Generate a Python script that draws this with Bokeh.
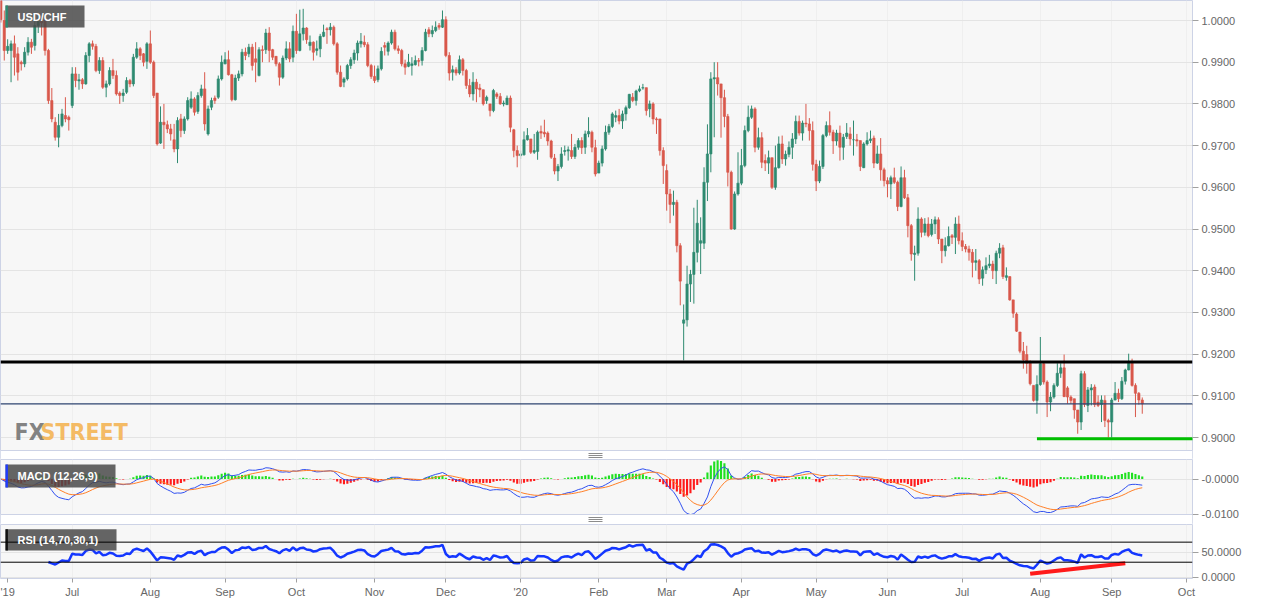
import numpy as np
from bokeh.plotting import figure
from bokeh.layouts import column
from bokeh.models import (ColumnDataSource, FixedTicker, Span, Label, Range1d, BoxAnnotation,
                          NumeralTickFormatter, CustomJSTickFormatter)
from bokeh.embed import file_html
from bokeh.resources import INLINE

# ---------------- data (daily USD/CHF, trading-day index 0 = 1 Jul 2019) ----------------
first_day_index = -21

opens = [
    1.0060,
    1.0000, 0.9928, 0.9928, 0.9944, 0.9920, 0.9900, 0.9896, 0.9924, 0.9948, 0.9940,
    0.9988, 0.9998, 1.0000, 0.9928, 0.9808, 0.9756, 0.9720, 0.9748, 0.9772, 0.9768,
    0.9796, 0.9872, 0.9855, 0.9858, 0.9848, 0.9916, 0.9944, 0.9938, 0.9880, 0.9904,
    0.9840, 0.9848, 0.9880, 0.9868, 0.9826, 0.9820, 0.9828, 0.9856, 0.9848, 0.9912,
    0.9932, 0.9920, 0.9902, 0.9944, 0.9900, 0.9826, 0.9706, 0.9756, 0.9750, 0.9740,
    0.9714, 0.9692, 0.9764, 0.9736, 0.9764, 0.9792, 0.9812, 0.9782, 0.9820, 0.9836,
    0.9728, 0.9792, 0.9814, 0.9816, 0.9860, 0.9896, 0.9906, 0.9870, 0.9810, 0.9862,
    0.9872, 0.9924, 0.9920, 0.9936, 0.9908, 0.9868, 0.9930, 0.9930, 0.9970, 0.9930,
    0.9914, 0.9896, 0.9864, 0.9910, 0.9932, 0.9912, 0.9974, 0.9928, 0.9968, 0.9982,
    0.9940, 0.9948, 0.9928, 0.9932, 0.9962, 0.9980, 0.9978, 0.9984, 0.9944, 0.9876,
    0.9852, 0.9860, 0.9892, 0.9906, 0.9922, 0.9944, 0.9948, 0.9942, 0.9892, 0.9866,
    0.9858, 0.9884, 0.9940, 0.9926, 0.9946, 0.9972, 0.9932, 0.9928, 0.9896, 0.9890,
    0.9892, 0.9894, 0.9904, 0.9904, 0.9928, 0.9978, 0.9968, 0.9976, 0.9988, 0.9984,
    1.0002, 0.9916, 0.9876, 0.9882, 0.9874, 0.9906, 0.9880, 0.9844, 0.9824, 0.9852,
    0.9838, 0.9834, 0.9808, 0.9800, 0.9784, 0.9824, 0.9818, 0.9800, 0.9798, 0.9814,
    0.9738, 0.9688, 0.9676, 0.9678, 0.9714, 0.9716, 0.9684, 0.9686, 0.9734, 0.9732,
    0.9730, 0.9711, 0.9670, 0.9639, 0.9650, 0.9686, 0.9687, 0.9688, 0.9674, 0.9696,
    0.9712, 0.9696, 0.9728, 0.9732, 0.9695, 0.9634, 0.9658, 0.9692, 0.9732, 0.9746,
    0.9768, 0.9772, 0.9759, 0.9776, 0.9791, 0.9816, 0.9808, 0.9831, 0.9838, 0.9839,
    0.9788, 0.9800, 0.9764, 0.9764, 0.9688, 0.9640, 0.9584, 0.9559, 0.9564, 0.9460,
    0.9274, 0.9282, 0.9368, 0.9391, 0.9444, 0.9466, 0.9466, 0.9612, 0.9680, 0.9860,
    0.9863, 0.9848, 0.9815, 0.9770, 0.9636, 0.9500, 0.9584, 0.9610, 0.9652, 0.9736,
    0.9768, 0.9788, 0.9696, 0.9719, 0.9664, 0.9658, 0.9671, 0.9600, 0.9647, 0.9704,
    0.9668, 0.9679, 0.9696, 0.9716, 0.9758, 0.9730, 0.9754, 0.9752, 0.9736, 0.9655,
    0.9615, 0.9650, 0.9724, 0.9748, 0.9732, 0.9711, 0.9730, 0.9696, 0.9722, 0.9728,
    0.9714, 0.9714, 0.9712, 0.9647, 0.9704, 0.9712, 0.9718, 0.9658, 0.9680, 0.9642,
    0.9616, 0.9608, 0.9623, 0.9612, 0.9554, 0.9623, 0.9575, 0.9508, 0.9439, 0.9442,
    0.9524, 0.9492, 0.9512, 0.9487, 0.9512, 0.9522, 0.9476, 0.9448, 0.9460, 0.9484,
    0.9480, 0.9512, 0.9472, 0.9458, 0.9452, 0.9444, 0.9420, 0.9424, 0.9382, 0.9402,
    0.9412, 0.9416, 0.9400, 0.9442, 0.9455, 0.9384, 0.9386, 0.9330, 0.9296, 0.9253,
    0.9207, 0.9199, 0.9178, 0.9125, 0.9089, 0.9127, 0.9177, 0.9133, 0.9085, 0.9097,
    0.9125, 0.9154, 0.9167, 0.9119, 0.9097, 0.9093, 0.9066, 0.9037, 0.9153, 0.9077,
    0.9114, 0.9121, 0.9085, 0.9079, 0.9089, 0.9041, 0.9037, 0.9090, 0.9106, 0.9093,
    0.9135, 0.9162, 0.9178, 0.9125, 0.9106, 0.9090,
]

highs = [
    1.0075,
    1.0024, 0.9955, 0.9952, 0.9964, 0.9936, 0.9904, 0.9936, 0.9960, 0.9956, 0.9998,
    1.0010, 1.0008, 1.0004, 0.9932, 0.9838, 0.9768, 0.9776, 0.9788, 0.9816, 0.9772,
    0.9888, 0.9888, 0.9872, 0.9862, 0.9924, 0.9948, 0.9952, 0.9944, 0.9912, 0.9912,
    0.9856, 0.9888, 0.9908, 0.9880, 0.9830, 0.9836, 0.9864, 0.9860, 0.9920, 0.9948,
    0.9936, 0.9922, 0.9948, 0.9976, 0.9904, 0.9826, 0.9794, 0.9800, 0.9760, 0.9752,
    0.9752, 0.9768, 0.9776, 0.9770, 0.9816, 0.9830, 0.9816, 0.9828, 0.9846, 0.9876,
    0.9796, 0.9815, 0.9820, 0.9868, 0.9916, 0.9924, 0.9928, 0.9872, 0.9870, 0.9880,
    0.9932, 0.9935, 0.9944, 0.9944, 0.9948, 0.9936, 0.9940, 0.9980, 0.9984, 0.9932,
    0.9915, 0.9900, 0.9916, 0.9950, 0.9948, 0.9988, 1.0016, 1.0026, 1.0028, 0.9984,
    0.9964, 0.9950, 0.9952, 0.9968, 0.9990, 0.9984, 0.9994, 0.9988, 0.9948, 0.9892,
    0.9864, 0.9896, 0.9912, 0.9930, 0.9952, 0.9970, 0.9964, 0.9948, 0.9896, 0.9892,
    0.9892, 0.9936, 0.9948, 0.9950, 0.9978, 0.9978, 0.9940, 0.9932, 0.9906, 0.9920,
    0.9912, 0.9916, 0.9910, 0.9936, 0.9980, 0.9984, 0.9988, 0.9998, 0.9994, 1.0024,
    1.0010, 0.9924, 0.9892, 0.9888, 0.9916, 0.9910, 0.9884, 0.9860, 0.9876, 0.9860,
    0.9848, 0.9834, 0.9820, 0.9800, 0.9836, 0.9828, 0.9826, 0.9808, 0.9820, 0.9820,
    0.9740, 0.9700, 0.9688, 0.9734, 0.9742, 0.9716, 0.9728, 0.9736, 0.9748, 0.9762,
    0.9734, 0.9714, 0.9680, 0.9656, 0.9696, 0.9700, 0.9698, 0.9728, 0.9704, 0.9718,
    0.9720, 0.9736, 0.9768, 0.9736, 0.9714, 0.9664, 0.9700, 0.9748, 0.9752, 0.9780,
    0.9784, 0.9788, 0.9784, 0.9796, 0.9824, 0.9826, 0.9834, 0.9844, 0.9848, 0.9839,
    0.9808, 0.9804, 0.9768, 0.9764, 0.9696, 0.9655, 0.9596, 0.9592, 0.9570, 0.9466,
    0.9319, 0.9412, 0.9402, 0.9551, 0.9570, 0.9528, 0.9648, 0.9751, 0.9876, 0.9900,
    0.9900, 0.9848, 0.9834, 0.9776, 0.9640, 0.9590, 0.9684, 0.9692, 0.9748, 0.9796,
    0.9796, 0.9792, 0.9743, 0.9732, 0.9679, 0.9688, 0.9671, 0.9700, 0.9722, 0.9724,
    0.9688, 0.9710, 0.9730, 0.9772, 0.9772, 0.9760, 0.9800, 0.9766, 0.9758, 0.9666,
    0.9664, 0.9728, 0.9758, 0.9782, 0.9738, 0.9738, 0.9748, 0.9728, 0.9754, 0.9744,
    0.9760, 0.9728, 0.9712, 0.9708, 0.9732, 0.9736, 0.9724, 0.9700, 0.9718, 0.9647,
    0.9624, 0.9628, 0.9647, 0.9616, 0.9650, 0.9642, 0.9584, 0.9512, 0.9460, 0.9552,
    0.9528, 0.9526, 0.9528, 0.9524, 0.9530, 0.9528, 0.9476, 0.9480, 0.9506, 0.9488,
    0.9528, 0.9532, 0.9492, 0.9464, 0.9460, 0.9452, 0.9452, 0.9428, 0.9410, 0.9432,
    0.9438, 0.9424, 0.9448, 0.9466, 0.9462, 0.9408, 0.9386, 0.9330, 0.9300, 0.9253,
    0.9229, 0.9220, 0.9185, 0.9125, 0.9149, 0.9241, 0.9181, 0.9137, 0.9109, 0.9130,
    0.9178, 0.9178, 0.9199, 0.9123, 0.9101, 0.9093, 0.9066, 0.9160, 0.9159, 0.9121,
    0.9128, 0.9127, 0.9101, 0.9101, 0.9101, 0.9045, 0.9095, 0.9133, 0.9117, 0.9145,
    0.9165, 0.9201, 0.9189, 0.9130, 0.9109, 0.9096,
]

lows = [
    0.9995,
    0.9904, 0.9920, 0.9852, 0.9868, 0.9856, 0.9880, 0.9888, 0.9916, 0.9920, 0.9928,
    0.9970, 0.9964, 0.9916, 0.9800, 0.9756, 0.9712, 0.9696, 0.9744, 0.9756, 0.9736,
    0.9790, 0.9840, 0.9834, 0.9836, 0.9846, 0.9900, 0.9930, 0.9876, 0.9872, 0.9836,
    0.9816, 0.9844, 0.9860, 0.9820, 0.9800, 0.9805, 0.9824, 0.9840, 0.9842, 0.9908,
    0.9905, 0.9890, 0.9884, 0.9896, 0.9814, 0.9700, 0.9704, 0.9692, 0.9730, 0.9712,
    0.9684, 0.9658, 0.9720, 0.9728, 0.9760, 0.9788, 0.9772, 0.9776, 0.9815, 0.9736,
    0.9724, 0.9785, 0.9800, 0.9812, 0.9856, 0.9895, 0.9868, 0.9806, 0.9808, 0.9855,
    0.9866, 0.9905, 0.9912, 0.9880, 0.9852, 0.9866, 0.9900, 0.9920, 0.9900, 0.9905,
    0.9890, 0.9844, 0.9860, 0.9905, 0.9900, 0.9900, 0.9920, 0.9926, 0.9952, 0.9944,
    0.9928, 0.9904, 0.9916, 0.9912, 0.9960, 0.9944, 0.9964, 0.9940, 0.9870, 0.9840,
    0.9840, 0.9856, 0.9884, 0.9896, 0.9904, 0.9935, 0.9936, 0.9888, 0.9860, 0.9850,
    0.9852, 0.9880, 0.9916, 0.9916, 0.9942, 0.9928, 0.9920, 0.9890, 0.9870, 0.9888,
    0.9868, 0.9892, 0.9890, 0.9892, 0.9926, 0.9960, 0.9960, 0.9972, 0.9978, 0.9982,
    0.9912, 0.9856, 0.9856, 0.9868, 0.9870, 0.9868, 0.9836, 0.9816, 0.9808, 0.9804,
    0.9816, 0.9796, 0.9800, 0.9770, 0.9780, 0.9812, 0.9798, 0.9794, 0.9798, 0.9732,
    0.9672, 0.9648, 0.9668, 0.9676, 0.9712, 0.9680, 0.9680, 0.9666, 0.9716, 0.9720,
    0.9700, 0.9668, 0.9631, 0.9615, 0.9645, 0.9676, 0.9664, 0.9668, 0.9668, 0.9690,
    0.9680, 0.9680, 0.9720, 0.9684, 0.9626, 0.9634, 0.9650, 0.9688, 0.9726, 0.9742,
    0.9756, 0.9751, 0.9740, 0.9760, 0.9788, 0.9804, 0.9796, 0.9828, 0.9834, 0.9772,
    0.9768, 0.9751, 0.9728, 0.9676, 0.9608, 0.9544, 0.9514, 0.9532, 0.9444, 0.9317,
    0.9185, 0.9266, 0.9325, 0.9321, 0.9420, 0.9392, 0.9452, 0.9567, 0.9636, 0.9720,
    0.9820, 0.9719, 0.9744, 0.9602, 0.9498, 0.9498, 0.9580, 0.9605, 0.9648, 0.9732,
    0.9764, 0.9684, 0.9690, 0.9646, 0.9639, 0.9632, 0.9596, 0.9594, 0.9645, 0.9656,
    0.9652, 0.9672, 0.9668, 0.9704, 0.9724, 0.9712, 0.9744, 0.9712, 0.9640, 0.9591,
    0.9610, 0.9644, 0.9720, 0.9724, 0.9680, 0.9700, 0.9664, 0.9666, 0.9716, 0.9700,
    0.9676, 0.9698, 0.9639, 0.9646, 0.9700, 0.9706, 0.9646, 0.9656, 0.9616, 0.9602,
    0.9576, 0.9572, 0.9608, 0.9543, 0.9552, 0.9572, 0.9480, 0.9424, 0.9376, 0.9436,
    0.9480, 0.9484, 0.9480, 0.9482, 0.9488, 0.9464, 0.9418, 0.9434, 0.9458, 0.9464,
    0.9440, 0.9463, 0.9447, 0.9444, 0.9424, 0.9384, 0.9400, 0.9368, 0.9364, 0.9392,
    0.9406, 0.9380, 0.9368, 0.9430, 0.9380, 0.9376, 0.9328, 0.9287, 0.9253, 0.9202,
    0.9165, 0.9153, 0.9125, 0.9086, 0.9057, 0.9124, 0.9127, 0.9049, 0.9063, 0.9093,
    0.9121, 0.9143, 0.9097, 0.9081, 0.9081, 0.9045, 0.9009, 0.9018, 0.9073, 0.9061,
    0.9077, 0.9073, 0.9073, 0.9037, 0.9025, 0.9000, 0.9000, 0.9089, 0.9085, 0.9090,
    0.9127, 0.9161, 0.9122, 0.9049, 0.9079, 0.9057,
]

closes = [
    1.0002,
    0.9928, 0.9938, 0.9944, 0.9912, 0.9876, 0.9896, 0.9924, 0.9948, 0.9936, 0.9988,
    0.9998, 0.9994, 0.9928, 0.9808, 0.9764, 0.9720, 0.9748, 0.9776, 0.9764, 0.9762,
    0.9872, 0.9856, 0.9858, 0.9848, 0.9916, 0.9944, 0.9938, 0.9880, 0.9904, 0.9840,
    0.9848, 0.9880, 0.9868, 0.9824, 0.9820, 0.9826, 0.9856, 0.9848, 0.9912, 0.9932,
    0.9916, 0.9900, 0.9944, 0.9900, 0.9820, 0.9704, 0.9756, 0.9750, 0.9740, 0.9728,
    0.9692, 0.9760, 0.9736, 0.9764, 0.9808, 0.9812, 0.9780, 0.9820, 0.9836, 0.9752,
    0.9788, 0.9808, 0.9808, 0.9860, 0.9900, 0.9906, 0.9870, 0.9810, 0.9862, 0.9872,
    0.9924, 0.9916, 0.9936, 0.9892, 0.9900, 0.9930, 0.9928, 0.9970, 0.9928, 0.9912,
    0.9896, 0.9864, 0.9910, 0.9932, 0.9908, 0.9974, 0.9928, 0.9968, 0.9982, 0.9954,
    0.9948, 0.9924, 0.9932, 0.9962, 0.9972, 0.9978, 0.9984, 0.9944, 0.9876, 0.9842,
    0.9860, 0.9892, 0.9906, 0.9922, 0.9946, 0.9950, 0.9942, 0.9892, 0.9866, 0.9856,
    0.9884, 0.9926, 0.9936, 0.9946, 0.9972, 0.9932, 0.9928, 0.9896, 0.9888, 0.9900,
    0.9896, 0.9904, 0.9902, 0.9928, 0.9972, 0.9968, 0.9976, 0.9984, 0.9984, 1.0002,
    0.9916, 0.9874, 0.9882, 0.9874, 0.9906, 0.9880, 0.9844, 0.9824, 0.9852, 0.9836,
    0.9834, 0.9800, 0.9816, 0.9784, 0.9832, 0.9818, 0.9800, 0.9802, 0.9814, 0.9744,
    0.9688, 0.9676, 0.9680, 0.9714, 0.9724, 0.9684, 0.9688, 0.9732, 0.9730, 0.9728,
    0.9711, 0.9672, 0.9639, 0.9650, 0.9680, 0.9688, 0.9690, 0.9674, 0.9696, 0.9712,
    0.9695, 0.9728, 0.9734, 0.9696, 0.9632, 0.9658, 0.9692, 0.9732, 0.9746, 0.9776,
    0.9772, 0.9759, 0.9776, 0.9791, 0.9823, 0.9808, 0.9831, 0.9836, 0.9839, 0.9784,
    0.9800, 0.9764, 0.9762, 0.9688, 0.9652, 0.9584, 0.9559, 0.9564, 0.9460, 0.9375,
    0.9282, 0.9368, 0.9391, 0.9444, 0.9514, 0.9472, 0.9612, 0.9680, 0.9860, 0.9863,
    0.9848, 0.9815, 0.9770, 0.9636, 0.9500, 0.9584, 0.9610, 0.9652, 0.9736, 0.9768,
    0.9788, 0.9696, 0.9719, 0.9660, 0.9658, 0.9671, 0.9600, 0.9647, 0.9704, 0.9668,
    0.9679, 0.9696, 0.9716, 0.9758, 0.9730, 0.9754, 0.9752, 0.9736, 0.9655, 0.9615,
    0.9650, 0.9724, 0.9748, 0.9732, 0.9711, 0.9730, 0.9696, 0.9720, 0.9730, 0.9716,
    0.9714, 0.9711, 0.9650, 0.9704, 0.9712, 0.9716, 0.9658, 0.9680, 0.9642, 0.9616,
    0.9608, 0.9623, 0.9612, 0.9554, 0.9623, 0.9575, 0.9508, 0.9440, 0.9442, 0.9524,
    0.9492, 0.9512, 0.9484, 0.9512, 0.9522, 0.9476, 0.9448, 0.9460, 0.9482, 0.9480,
    0.9512, 0.9472, 0.9458, 0.9452, 0.9444, 0.9420, 0.9424, 0.9380, 0.9402, 0.9412,
    0.9416, 0.9400, 0.9442, 0.9454, 0.9386, 0.9388, 0.9330, 0.9298, 0.9255, 0.9207,
    0.9186, 0.9178, 0.9129, 0.9089, 0.9127, 0.9177, 0.9133, 0.9085, 0.9097, 0.9125,
    0.9154, 0.9167, 0.9098, 0.9097, 0.9089, 0.9066, 0.9037, 0.9153, 0.9079, 0.9114,
    0.9119, 0.9079, 0.9077, 0.9090, 0.9041, 0.9037, 0.9090, 0.9106, 0.9093, 0.9135,
    0.9162, 0.9178, 0.9125, 0.9106, 0.9090, 0.90807,
]

month_tick_index = [0, 23, 45, 66, 89, 110, 132, 155, 175, 197, 219, 240, 262, 285, 306, 328]
month_tick_labels = ["Jul", "Aug", "Sep", "Oct", "Nov", "Dec", "'20", "Feb", "Mar",
                     "Apr", "May", "Jun", "Jul", "Aug", "Sep", "Oct"]
year_start_index = 132
first_year_label = "'19"

price_ticks = [0.90, 0.91, 0.92, 0.93, 0.94, 0.95, 0.96, 0.97, 0.98, 0.99, 1.00]
macd_ticks = [-0.01, 0.0]
rsi_ticks = [0, 50]
rsi_levels = [70, 30]

resistance_level = 0.9181
support_level = 0.8997
support_x = [284, 331]
rsi_trend_x = [282, 310]
rsi_trend_y = [7, 28]

# ---------------- derived series ----------------
o = np.array(opens); h = np.array(highs); l = np.array(lows); c = np.array(closes)
n = len(c)
day = np.arange(first_day_index, first_day_index + n)

UP = "#2e8a70"
DOWN = "#d9584b"
candle_color = np.where(c >= o, UP, DOWN)
src = ColumnDataSource(dict(x=day, top=np.maximum(o, c), bottom=np.minimum(o, c),
                            high=h, low=l, color=candle_color))


def ema(series, span):
    a = 2.0 / (span + 1.0)
    out = np.empty(len(series))
    out[0] = series[0]
    for k in range(1, len(series)):
        out[k] = a * series[k] + (1 - a) * out[k - 1]
    return out


macd = ema(c, 12) - ema(c, 26)
signal = ema(macd, 9)
hist = macd - signal
hist_color = np.where(hist >= 0, "#1fe01f", "#ff1a1a")
msrc = ColumnDataSource(dict(x=day, macd=macd, signal=signal, hist=hist, color=hist_color))

RSI_N = 14
d = np.diff(c)
gain = np.clip(d, 0, None)
loss = np.clip(-d, 0, None)
ag = np.empty(len(d)); al = np.empty(len(d))
for k in range(len(d)):
    if k < RSI_N:
        ag[k] = gain[:k + 1].mean(); al[k] = loss[:k + 1].mean()
    else:
        ag[k] = (ag[k - 1] * (RSI_N - 1) + gain[k]) / RSI_N
        al[k] = (al[k - 1] * (RSI_N - 1) + loss[k]) / RSI_N
rsi = 100 - 100 / (1 + ag / np.maximum(al, 1e-9))
RSI_SKIP = RSI_N - 1
rsrc = ColumnDataSource(dict(x=day[1 + RSI_SKIP:], rsi=rsi[RSI_SKIP:]))

# ---------------- layout constants (pixels) ----------------
W = 1253
FRAME_W = 1192
RB = W - FRAME_W
PX_PER_DAY = 3.397
X0 = -71.7 / PX_PER_DAY
X1 = X0 + FRAME_W / PX_PER_DAY

BG = "#f7f7f7"
OUTLINE = "#cdd3e6"
GRID = "#e4e4e4"
FONT = "Liberation Sans"

# main panel: frame rows 0..459 (white splitter 450..459)
P_SCALE = 4170.0
PY1 = 1.0 + 20 / P_SCALE
P_H = 459
PY0 = PY1 - P_H / P_SCALE
# MACD panel: rows 459..524 (white splitter 514..524)
M_SCALE = 3530.0
M_TOP = 459
MY1 = (478.5 - M_TOP) / M_SCALE
M_H = 65
MY0 = MY1 - M_H / M_SCALE
# RSI panel: rows 524..580
R_SCALE = 0.52
R_TOP = 524
RY1 = (578.7 - R_TOP) / R_SCALE
R_H = 56
RY0 = RY1 - R_H / R_SCALE


def px_x(sx):
    return X0 + sx / PX_PER_DAY


def py_main(sy):
    return PY1 - sy / P_SCALE


def py_macd(sy):
    return MY1 - (sy - M_TOP) / M_SCALE


def py_rsi(sy):
    return RY1 - (sy - R_TOP) / R_SCALE


xr = Range1d(X0, X1)


def make_fig(height, yr, bottom_border, xloc=None):
    f = figure(width=W, height=height, x_range=xr, y_range=yr,
               output_backend="svg", toolbar_location=None,
               y_axis_location="right", x_axis_location=xloc,
               min_border_left=0, min_border_right=RB,
               min_border_top=0, min_border_bottom=bottom_border,
               background_fill_color=BG, border_fill_color="white",
               outline_line_color=OUTLINE)
    ax = f.yaxis[0]
    ax.axis_line_color = None
    ax.major_tick_line_color = "#a0a0a0"
    ax.major_tick_out = 6
    ax.major_tick_in = 0
    ax.minor_tick_line_color = None
    ax.major_label_text_font_size = "11px"
    ax.major_label_text_color = "#666666"
    ax.major_label_text_font = FONT
    ax.major_label_standoff = 3
    f.ygrid.grid_line_color = GRID
    f.xgrid.ticker = FixedTicker(ticks=month_tick_index)
    f.xgrid.grid_line_color = "#efefef"
    f.add_layout(Span(location=year_start_index, dimension="height",
                      line_color="#dedede", line_width=1))
    return f


def splitter(f, py, sy_line, sy_icon):
    # white strip between two panels, its border line and the drag handle
    f.add_layout(BoxAnnotation(top=py(sy_line), fill_color="white", fill_alpha=1.0,
                               line_color=None, level="annotation"))
    f.add_layout(Span(location=py(sy_line), dimension="width", line_color=OUTLINE, line_width=1))
    for dy in (-2, 0, 2):
        f.segment(x0=px_x(588), x1=px_x(602), y0=py(sy_icon + dy), y1=py(sy_icon + dy),
                  line_color="#8c8c8c", line_width=1, level="overlay")


def tag(f, py, text, stripe, sx0, sx1, sy0, sy1):
    f.quad(left=px_x(sx0), right=px_x(sx1), top=py(sy0), bottom=py(sy1),
           fill_color="#4a4a4a", fill_alpha=0.85, line_color=None)
    f.quad(left=px_x(sx0), right=px_x(sx0 + 2.4), top=py(sy0), bottom=py(sy1),
           fill_color=stripe, fill_alpha=1.0, line_color=None)
    f.add_layout(Label(x=px_x(sx0 + 12), y=py((sy0 + sy1) / 2.0), text=text,
                       text_font=FONT, text_font_size="11px", text_font_style="bold",
                       text_color="white", text_align="left", text_baseline="middle"))


# ---------------- main price panel ----------------
p = make_fig(P_H, Range1d(PY0, PY1), 0)
p.yaxis[0].ticker = FixedTicker(ticks=price_ticks)
p.yaxis[0].formatter = NumeralTickFormatter(format="0.0000")

p.segment(x0="x", y0="low", x1="x", y1="high", source=src, line_color="color", line_width=1)
p.vbar(x="x", width=0.68, top="top", bottom="bottom", source=src,
       fill_color="color", line_color="color", line_width=0.6)

p.add_layout(Span(location=resistance_level, dimension="width", line_color="black", line_width=3))
p.line(support_x, [support_level, support_level], line_color="#00bf00", line_width=3)
p.add_layout(Span(location=closes[-1], dimension="width", line_color="#2e4470", line_width=1.2))

p.add_layout(Label(x=X1, y=closes[-1], x_offset=-1, text="◀", text_font_size="9px",
                   text_color="#34476b", text_align="left", text_baseline="middle"))
p.add_layout(Label(x=X1, y=closes[-1], x_offset=4, text=f"{closes[-1]:.6f}",
                   text_font=FONT, text_font_size="12px", text_font_style="bold",
                   text_color="white", text_align="left", text_baseline="middle",
                   background_fill_color="#34476b", background_fill_alpha=1.0,
                   padding=dict(left=3, right=3, top=2, bottom=2)))

# watermark
WM_FONT = "'Liberation Sans Narrow', 'DejaVu Sans Condensed', sans-serif"
p.add_layout(Label(x=px_x(14), y=py_main(431), text="FX", text_font=WM_FONT,
                   text_font_size="23px", text_font_style="bold", text_color="#6e6e6e",
                   text_alpha=0.85, text_align="left", text_baseline="alphabetic"))
p.add_layout(Label(x=px_x(40), y=py_main(431), text="STREET", text_font=WM_FONT,
                   text_font_size="23px", text_font_style="bold", text_color="#f4b04a",
                   text_alpha=0.85, text_align="left", text_baseline="alphabetic"))

tag(p, py_main, "USD/CHF", "#2e8a70", 5, 84, 5, 27)
splitter(p, py_main, 450, 455)

# ---------------- MACD panel ----------------
m = make_fig(M_H, Range1d(MY0, MY1), 0)
m.yaxis[0].ticker = FixedTicker(ticks=macd_ticks)
m.yaxis[0].formatter = CustomJSTickFormatter(code="return '-' + Math.abs(tick).toFixed(4);")
m.vbar(x="x", width=0.62, top="hist", bottom=0, source=msrc, fill_color="color", line_color=None)
m.line("x", "macd", source=msrc, line_color="#3050f0", line_width=1)
m.line("x", "signal", source=msrc, line_color="#ff7f27", line_width=1)
tag(m, py_macd, "MACD (12,26,9)", "#1f3cff", 5, 115, 464, 487)
splitter(m, py_macd, 514, 519)

# ---------------- RSI panel ----------------
r = make_fig(R_H + 20, Range1d(RY0, RY1), 20, xloc="below")
r.yaxis[0].ticker = FixedTicker(ticks=rsi_ticks)
r.yaxis[0].formatter = NumeralTickFormatter(format="0.0000")
xa = r.xaxis[0]
# the cut-off first-year label at the left edge sits where its text fits inside the frame
year_label_pos = px_x(7)
xa.ticker = FixedTicker(ticks=[year_label_pos] + month_tick_index)
overrides = {t: s for t, s in zip(month_tick_index, month_tick_labels)}
overrides[year_label_pos] = first_year_label
xa.major_label_overrides = overrides
xa.axis_line_color = None
xa.major_tick_line_color = "#a0a0a0"
xa.major_tick_out = 4
xa.major_tick_in = 0
xa.minor_tick_line_color = None
xa.major_label_text_font_size = "11px"
xa.major_label_text_color = "#666666"
xa.major_label_text_font = FONT
xa.major_label_standoff = 3
for lvl in rsi_levels:
    r.add_layout(Span(location=lvl, dimension="width", line_color="black", line_width=1))
r.line("x", "rsi", source=rsrc, line_color="#1437ff", line_width=2.5)
r.line(rsi_trend_x, rsi_trend_y, line_color="#ff1a1a", line_width=4)
tag(r, py_rsi, "RSI (14,70,30,1)", "#111111", 5, 116, 529, 551)

layout = column(p, m, r)
open("out.html", "w").write(file_html(layout, INLINE))
